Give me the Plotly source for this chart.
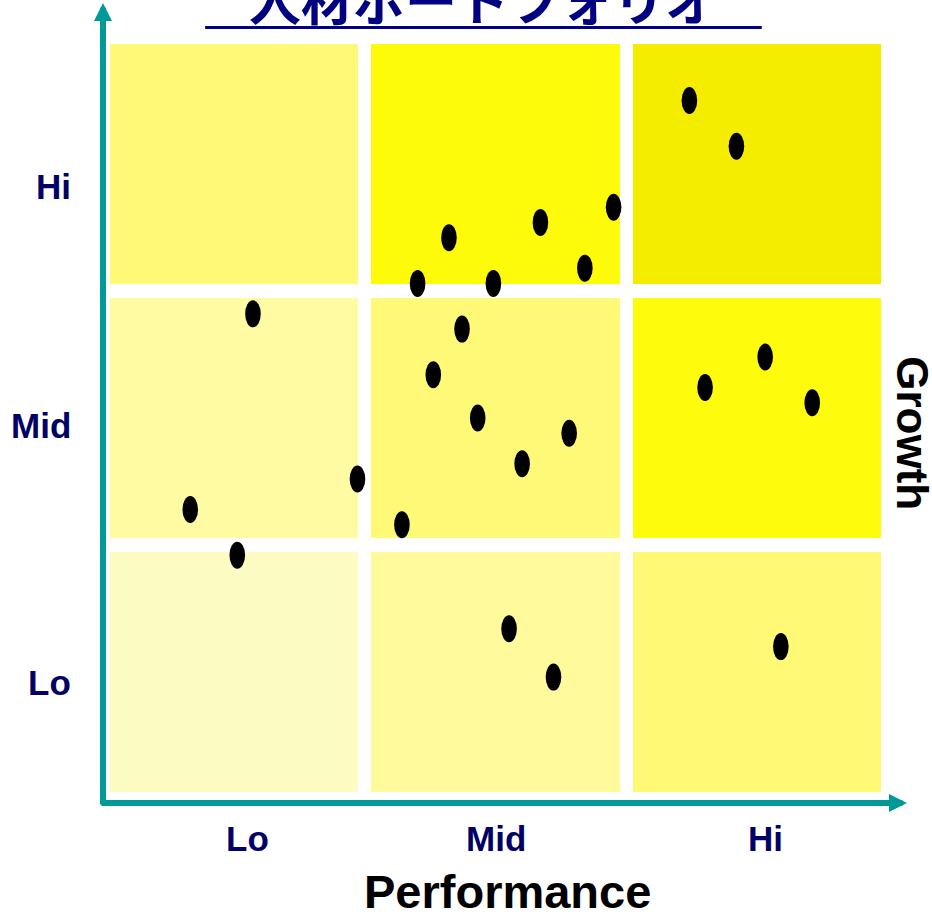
import plotly.graph_objects as go

# Talent portfolio: each person placed by performance (x) and growth (y)
performance = [2.24, 2.42, 1.95, 1.67, 1.32, 1.84, 1.20, 1.49, 0.57, 1.37, 2.53, 2.30,
               1.26, 2.71, 1.43, 1.78, 1.60, 0.97, 0.33, 1.14, 0.51, 1.55, 1.72, 2.59]
growth = [2.75, 2.57, 2.33, 2.27, 2.21, 2.09, 2.03, 2.03, 1.91, 1.85, 1.74, 1.62,
          1.67, 1.56, 1.50, 1.44, 1.32, 1.26, 1.14, 1.08, 0.96, 0.67, 0.48, 0.60]

levels = ["Lo", "Mid", "Hi"]
level_centers = [0.5, 1.5, 2.5]

# 3x3 grid fill colours, rows from Lo growth (bottom) to Hi growth (top)
cell_colors = [
    ["#FCFCC2", "#FFFB9C", "#FFF976"],
    ["#FFFBA2", "#FFF978", "#FFFB0C"],
    ["#FEFA78", "#FDFB0A", "#F5ED00"],
]

NAVY = "#000066"
TEAL = "#009999"
FONT = "Liberation Sans, Arial, sans-serif"

flat = [c for row in cell_colors for c in row]
n = len(flat)
colorscale = [[i / (n - 1), c] for i, c in enumerate(flat)]
z = [[r * 3 + c for c in range(3)] for r in range(3)]

fig = go.Figure()

fig.add_trace(go.Heatmap(
    x=level_centers, y=level_centers, z=z,
    zmin=0, zmax=n - 1, colorscale=colorscale, showscale=False,
    xgap=13, ygap=14, hoverinfo="skip",
))

fig.add_trace(go.Scatter(
    x=performance, y=growth, mode="markers",
    marker=dict(size=14, color="rgba(0,0,0,0)"),
    hovertemplate="Performance %{x}<br>Growth %{y}<extra></extra>",
    showlegend=False,
))

shapes = []
# each person drawn as an upright black ellipse
for px, gy in zip(performance, growth):
    shapes.append(dict(
        type="circle", xref="x", yref="y",
        xsizemode="pixel", ysizemode="pixel",
        xanchor=px, yanchor=gy,
        x0=-7.8, x1=7.8, y0=-13.5, y1=13.5,
        fillcolor="black", line=dict(width=0), layer="above",
    ))

# underline below the title
shapes.append(dict(type="line", xref="paper", yref="paper",
                   x0=0.129, x1=0.839, y0=1.0125, y1=1.0125,
                   line=dict(color="#000080", width=3)))

annotations = []

# axis arrows
annotations.append(dict(xref="paper", yref="paper", x=-0.0013, y=1.0446,
                        ax=0, ay=803, text="", showarrow=True,
                        arrowhead=2, arrowwidth=6, arrowsize=0.6,
                        arrowcolor=TEAL, standoff=0))
annotations.append(dict(xref="paper", yref="paper", x=1.0242, y=-0.0052,
                        ax=-807, ay=0, text="", showarrow=True,
                        arrowhead=2, arrowwidth=6, arrowsize=0.6,
                        arrowcolor=TEAL, standoff=0))

# level labels on both axes
x_label_pos = [0.55, 1.50, 2.53]
y_label_pos = [0.46, 1.47, 2.41]
for lab, xp in zip(levels, x_label_pos):
    annotations.append(dict(xref="x", yref="paper", x=xp, y=-0.052,
                            text=f"<b>{lab}</b>", showarrow=False,
                            font=dict(family=FONT, size=35, color=NAVY),
                            xanchor="center", yanchor="middle"))
for lab, yp in zip(levels, y_label_pos):
    annotations.append(dict(xref="paper", yref="y", x=-0.040, y=yp,
                            text=f"<b>{lab}</b>", showarrow=False,
                            font=dict(family=FONT, size=35, color=NAVY),
                            xanchor="right", yanchor="middle"))

# axis titles
annotations.append(dict(xref="paper", yref="paper", x=0.515, y=-0.121,
                        text="<b>Performance</b>", showarrow=False,
                        font=dict(family=FONT, size=47, color="black"),
                        xanchor="center", yanchor="middle"))
annotations.append(dict(xref="paper", yref="y", x=1.0, y=1.44,
                        xshift=25, text="<b>Growth</b>", textangle=90,
                        showarrow=False,
                        font=dict(family=FONT, size=44, color="black"),
                        xanchor="center", yanchor="middle"))

# chart title
annotations.append(dict(xref="paper", yref="paper", x=0.4834, y=1.0,
                        yshift=39, text="<b>人材ポートフォリオ</b>",
                        showarrow=False,
                        font=dict(family="Noto Sans CJK JP", size=52, color="#000080"),
                        xanchor="center", yanchor="middle"))

fig.update_layout(
    width=932, height=916,
    margin=dict(l=104, r=44, t=37, b=117),
    paper_bgcolor="white", plot_bgcolor="white",
    xaxis=dict(range=[0, 3], visible=False, fixedrange=True),
    yaxis=dict(range=[0, 3], visible=False, fixedrange=True),
    shapes=shapes, annotations=annotations, showlegend=False,
)

fig.write_html("out.html")
